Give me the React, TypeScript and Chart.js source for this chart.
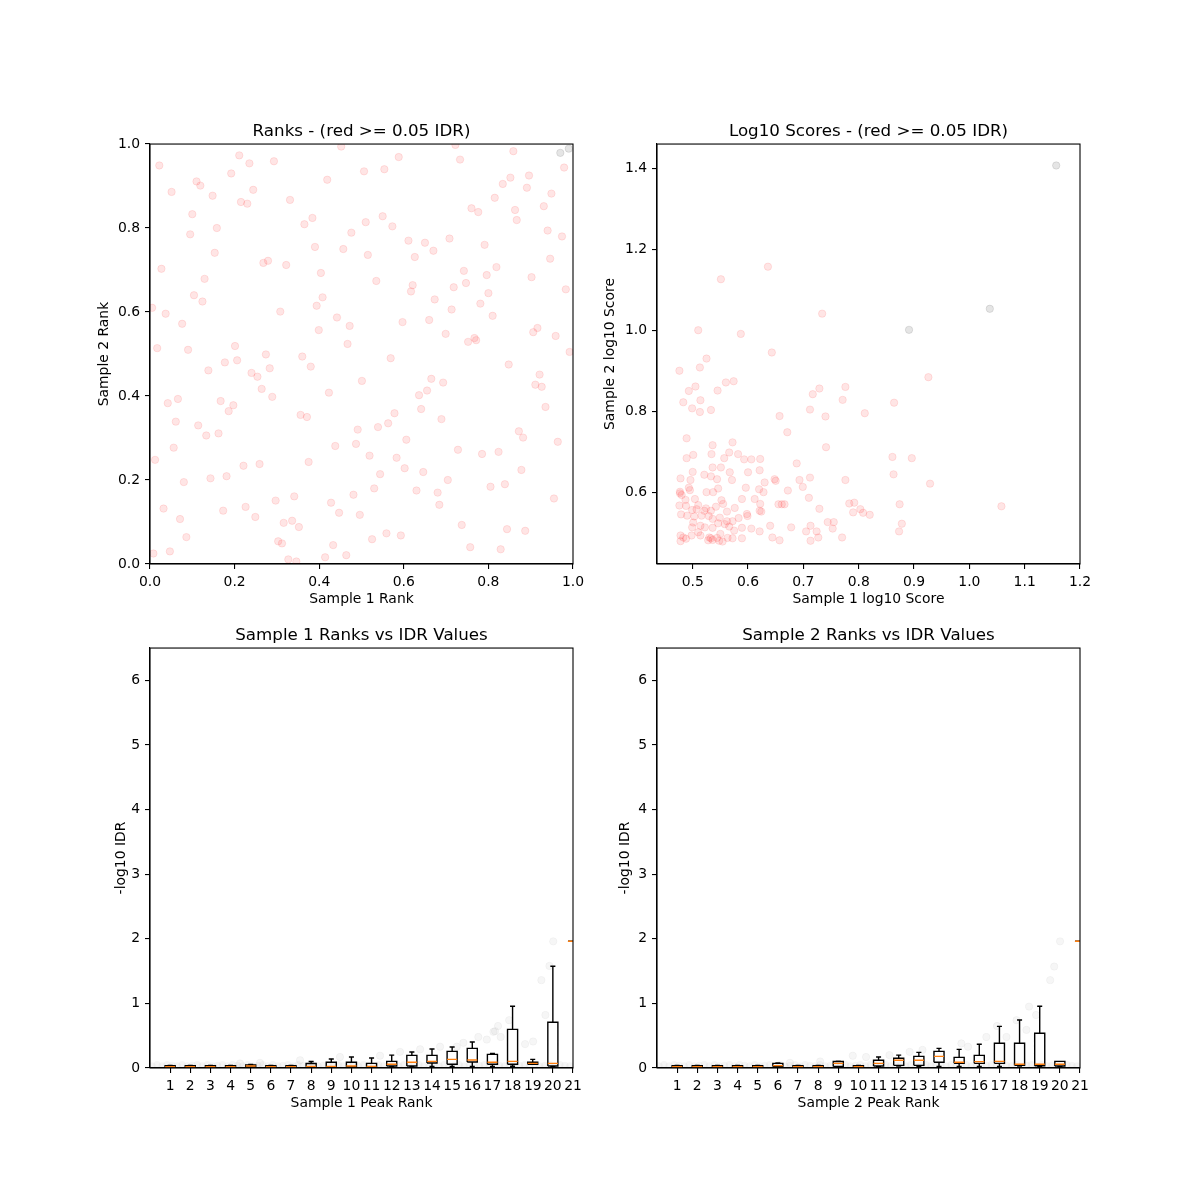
import React, { useEffect, useRef } from 'react';
import { Chart, registerables } from 'chart.js';

Chart.register(...registerables);

const FONT = '"DejaVu Sans", sans-serif';

// ---------- Panel 1: ranks ----------
const TL_RED_X = [0.452,0.722,0.859,0.211,0.022,0.235,0.293,0.733,0.588,0.554,0.506,0.192,0.979,0.852,0.896,0.419,0.110,0.119,0.834,0.891,0.244,0.051,0.148,0.949,0.815,0.331,0.215,0.230,0.760,0.776,0.863,0.931,0.100,0.550,0.384,0.867,0.365,0.573,0.158,0.940,0.476,0.510,0.095,0.974,0.708,0.611,0.650,0.791,0.390,0.457,0.670,0.153,0.515,0.626,0.946,0.268,0.279,0.322,0.819,0.027,0.404,0.742,0.796,0.902,0.129,0.535,0.621,0.617,0.718,0.747,0.983,0.800,0.104,0.408,0.673,0.124,0.781,0.394,0.005,0.713,0.308,0.037,0.810,0.442,0.660,0.597,0.076,0.472,0.399,0.906,0.916,0.699,0.959,0.752,0.767,0.771,0.467,0.017,0.090,0.201,0.992,0.274,0.360,0.569,0.206,0.177,0.848,0.380,0.138,0.283,0.240,0.254,0.665,0.501,0.693,0.921,0.911,0.926,0.655,0.636,0.423,0.264,0.289,0.066,0.042,0.167,0.197,0.186,0.935,0.641,0.578,0.356,0.371,0.689,0.061,0.563,0.114,0.539,0.491,0.872,0.162,0.133,0.882,0.606,0.964,0.487,0.438,0.056,0.728,0.824,0.785,0.519,0.583,0.259,0.221,0.375,0.012,0.878,0.602,0.646,0.544,0.181,0.143,0.704,0.080,0.805,0.839,0.530,0.630,0.680,0.481,0.341,0.297,0.428,0.955,0.684,0.173,0.032,0.226,0.447,0.496,0.249,0.071,0.336,0.316,0.737,0.352,0.844,0.887,0.559,0.593,0.086,0.525,0.303,0.312,0.433,0.757,0.829,0.047,0.008,0.464,0.414,0.327,0.346];
const TL_RED_Y = [0.994,0.998,0.983,0.973,0.949,0.954,0.959,0.963,0.969,0.940,0.935,0.930,0.944,0.920,0.925,0.915,0.911,0.901,0.905,0.896,0.891,0.886,0.877,0.882,0.872,0.867,0.862,0.858,0.847,0.838,0.843,0.852,0.833,0.828,0.824,0.819,0.809,0.804,0.800,0.794,0.789,0.814,0.785,0.780,0.775,0.770,0.765,0.760,0.755,0.750,0.746,0.741,0.736,0.731,0.727,0.717,0.722,0.712,0.707,0.703,0.693,0.698,0.688,0.683,0.679,0.674,0.664,0.649,0.659,0.669,0.654,0.645,0.640,0.635,0.630,0.625,0.620,0.615,0.610,0.606,0.601,0.596,0.591,0.587,0.581,0.576,0.572,0.567,0.557,0.552,0.562,0.548,0.543,0.529,0.538,0.533,0.524,0.514,0.510,0.519,0.505,0.499,0.494,0.490,0.485,0.480,0.475,0.470,0.461,0.466,0.455,0.446,0.441,0.436,0.432,0.451,0.427,0.422,0.413,0.402,0.408,0.417,0.398,0.393,0.383,0.388,0.378,0.364,0.374,0.369,0.359,0.355,0.350,0.345,0.339,0.335,0.330,0.326,0.320,0.316,0.311,0.306,0.301,0.296,0.291,0.286,0.281,0.277,0.272,0.267,0.262,0.258,0.253,0.238,0.234,0.243,0.248,0.224,0.228,0.219,0.214,0.209,0.204,0.200,0.195,0.184,0.190,0.180,0.175,0.170,0.165,0.161,0.151,0.146,0.156,0.141,0.127,0.132,0.136,0.122,0.117,0.112,0.107,0.103,0.098,0.093,0.088,0.083,0.079,0.073,0.068,0.064,0.059,0.054,0.049,0.045,0.040,0.035,0.030,0.025,0.021,0.016,0.011,0.006];
const TL_GREY_X = [0.970, 0.990];
const TL_GREY_Y = [0.979, 0.989];
const TL_TICKS = [0, 0.2, 0.4, 0.6, 0.8, 1.0];

// ---------- Panel 2: log10 scores ----------
const TR_RED_X = [0.636,0.551,0.734,0.510,0.587,0.643,0.525,0.513,0.476,0.926,0.560,0.574,0.505,0.545,0.493,0.483,0.514,0.729,0.717,0.776,0.771,0.864,0.499,0.533,0.513,0.712,0.657,0.740,0.811,0.671,0.489,0.741,0.536,0.572,0.566,0.534,0.501,0.489,0.557,0.582,0.593,0.606,0.622,0.688,0.861,0.896,0.500,0.536,0.551,0.600,0.621,0.496,0.478,0.521,0.533,0.567,0.544,0.571,0.630,0.648,0.650,0.693,0.712,0.776,0.863,0.929,0.477,0.493,0.495,0.525,0.537,0.546,0.596,0.620,0.628,0.672,0.699,0.477,0.480,0.487,0.504,0.710,0.612,0.589,0.622,0.552,0.555,0.562,0.576,0.488,0.476,0.507,0.510,0.524,0.521,0.533,0.542,0.499,0.479,0.490,0.503,0.516,0.529,0.536,0.549,0.562,0.572,0.583,0.598,0.599,0.621,0.624,0.655,0.661,0.666,0.729,0.783,0.792,0.803,0.808,0.820,0.790,0.874,1.058,0.744,0.755,0.753,0.678,0.713,0.724,0.705,0.727,0.713,0.770,0.873,0.878,0.640,0.657,0.644,0.621,0.606,0.589,0.589,0.575,0.566,0.558,0.546,0.550,0.544,0.530,0.528,0.536,0.533,0.548,0.554,0.563,0.572,0.478,0.483,0.488,0.478,0.498,0.510,0.499,0.514,0.522,0.536,0.514,0.501];
const TR_RED_Y = [1.158,1.127,1.042,1.001,0.992,0.946,0.931,0.909,0.901,0.885,0.872,0.875,0.862,0.852,0.851,0.823,0.828,0.857,0.843,0.861,0.829,0.822,0.808,0.804,0.799,0.805,0.789,0.788,0.796,0.749,0.734,0.712,0.717,0.724,0.699,0.695,0.693,0.685,0.685,0.695,0.682,0.682,0.683,0.672,0.688,0.685,0.651,0.662,0.662,0.650,0.655,0.631,0.635,0.644,0.640,0.650,0.633,0.631,0.625,0.633,0.629,0.631,0.637,0.631,0.645,0.622,0.602,0.612,0.606,0.601,0.601,0.610,0.612,0.608,0.601,0.605,0.614,0.598,0.594,0.582,0.584,0.587,0.584,0.584,0.572,0.581,0.572,0.553,0.562,0.567,0.568,0.559,0.569,0.561,0.555,0.555,0.565,0.557,0.546,0.543,0.541,0.543,0.542,0.535,0.538,0.529,0.529,0.537,0.547,0.542,0.555,0.553,0.571,0.571,0.571,0.560,0.573,0.575,0.559,0.550,0.545,0.551,0.571,0.566,0.527,0.527,0.511,0.514,0.518,0.504,0.504,0.489,0.481,0.489,0.504,0.523,0.518,0.482,0.489,0.504,0.511,0.513,0.487,0.506,0.516,0.522,0.524,0.498,0.488,0.489,0.482,0.483,0.487,0.481,0.479,0.488,0.487,0.480,0.489,0.486,0.494,0.494,0.502,0.514,0.518,0.514,0.513,0.494,0.526];
const TR_GREY_X = [1.157, 1.037, 0.891];
const TR_GREY_Y = [1.408, 1.054, 1.002];
const TR_X_TICKS = [0.5, 0.6, 0.7, 0.8, 0.9, 1.0, 1.1, 1.2];
const TR_Y_TICKS = [0.6, 0.8, 1.0, 1.2, 1.4];

// ---------- Panels 3 & 4: ranks vs IDR ----------
const RANK_POS = [1,2,3,4,5,6,7,8,9,10,11,12,13,14,15,16,17,18,19,20,21];
const IDR_Y_TICKS = [0, 1, 2, 3, 4, 5, 6];

const S1_LO  = [0.010,0.010,0.010,0.010,0.012,0.010,0.010,0.015,0.015,0.015,0.015,0.025,0.025,0.025,0.025,0.025,0.025,0.028,0.057,0.028,1.961];
const S1_Q1  = [0.012,0.012,0.012,0.012,0.015,0.012,0.012,0.020,0.020,0.020,0.020,0.030,0.030,0.077,0.057,0.093,0.057,0.057,0.057,0.030,1.961];
const S1_MED = [0.022,0.022,0.022,0.022,0.030,0.022,0.022,0.025,0.025,0.030,0.025,0.057,0.088,0.103,0.134,0.124,0.088,0.103,0.072,0.072,1.961];
const S1_Q3  = [0.035,0.035,0.035,0.035,0.046,0.035,0.035,0.070,0.088,0.088,0.072,0.103,0.196,0.196,0.258,0.304,0.211,0.598,0.088,0.707,1.961];
const S1_HI  = [0.038,0.038,0.038,0.038,0.056,0.038,0.038,0.100,0.139,0.170,0.155,0.200,0.248,0.294,0.325,0.402,0.227,0.955,0.134,1.574,1.961];

const S2_LO  = [0.010,0.010,0.010,0.010,0.010,0.015,0.010,0.010,0.020,0.010,0.020,0.030,0.025,0.025,0.025,0.025,0.025,0.030,0.025,0.025,1.961];
const S2_Q1  = [0.012,0.012,0.012,0.012,0.012,0.025,0.012,0.012,0.025,0.012,0.030,0.041,0.041,0.088,0.072,0.072,0.072,0.041,0.035,0.030,1.961];
const S2_MED = [0.022,0.022,0.022,0.022,0.022,0.036,0.022,0.022,0.071,0.022,0.072,0.119,0.119,0.180,0.088,0.098,0.103,0.057,0.057,0.057,1.961];
const S2_Q3  = [0.035,0.035,0.035,0.035,0.035,0.071,0.035,0.035,0.100,0.035,0.119,0.150,0.180,0.258,0.165,0.196,0.382,0.382,0.537,0.103,1.961];
const S2_HI  = [0.038,0.038,0.038,0.038,0.038,0.080,0.038,0.038,0.107,0.038,0.170,0.200,0.242,0.304,0.289,0.367,0.645,0.743,0.955,0.103,1.961];

const S1_IDR_X = [20.02,19.83,19.43,19.63,17.83,17.28,17.13,17.41,18.62,19.02,16.30,16.72,15.56,15.23,14.40,13.41,12.41,11.42,9.43,17.05,7.45,5.46,4.47];
const S1_IDR_Y = [1.96,1.58,1.36,0.82,0.74,0.65,0.57,0.48,0.37,0.41,0.48,0.44,0.39,0.33,0.33,0.29,0.25,0.19,0.17,0.56,0.12,0.08,0.07];
const S2_IDR_X = [20.01,19.72,19.52,18.47,18.82,17.85,18.34,16.88,16.35,17.35,15.44,15.11,13.18,12.54,11.54,10.38,9.72,8.10,6.60];
const S2_IDR_Y = [1.96,1.57,1.36,0.95,0.82,0.74,0.59,0.65,0.48,0.48,0.33,0.38,0.28,0.25,0.20,0.17,0.19,0.10,0.08];
const LOW_IDR_X = [0.10,0.35,0.60,0.85,1.10,1.35,1.60,1.85,2.10,2.35,2.60,2.85,3.10,3.35,3.60,3.85,4.10,4.35,4.60,4.85,5.10,5.35,5.60,5.85,6.10,6.35,6.60,6.85,7.10,7.35,7.60,7.85,8.10,8.35,8.60,8.85,9.10,9.35,9.60,9.85,10.10,10.35,10.60,10.85,11.10,11.35,11.60,11.85,12.10,12.35,12.60,12.85,13.10,13.35,13.60,13.85,14.10,14.35,14.60,14.85,15.10,15.35,15.60,15.85,16.10,16.35,16.60,16.85,17.10,17.35,17.60,17.85,18.10,18.35,18.60,18.85,19.10,19.35,19.60,19.85,20.10,20.35,20.60,20.85];
const LOW_IDR_Y = [0.03,0.05,0.03,0.05,0.04,0.03,0.05,0.03,0.04,0.05,0.03,0.05,0.03,0.04,0.05,0.03,0.05,0.04,0.03,0.05,0.03,0.04,0.05,0.03,0.05,0.03,0.04,0.05,0.03,0.05,0.04,0.03,0.05,0.03,0.04,0.05,0.03,0.05,0.03,0.04,0.05,0.03,0.05,0.04,0.03,0.05,0.03,0.04,0.05,0.03,0.05,0.03,0.04,0.05,0.03,0.05,0.04,0.03,0.05,0.03,0.04,0.05,0.03,0.05,0.03,0.04,0.05,0.03,0.05,0.04,0.03,0.05,0.03,0.04,0.05,0.03,0.05,0.03,0.04,0.05,0.03,0.05,0.04,0.03];

// ---------- layout ----------
const PAD_L = 100, PAD_T = 40, PAD_R = 30, PAD_B = 60;
const AX_W = 423, AX_H = 420;

const framePlugin = {
  id: 'frame',
  afterDatasetsDraw(chart: any) {
    const { ctx, chartArea: a } = chart;
    ctx.save();
    ctx.strokeStyle = '#000';
    ctx.lineWidth = 1.1;
    ctx.strokeRect(a.left, a.top, a.right - a.left, a.bottom - a.top);
    ctx.restore();
  },
};

const zip = (xs: number[], ys: number[]) =>
  xs.slice(0, Math.min(xs.length, ys.length)).map((x, i) => ({ x, y: ys[i] }));

function scatterSet(xs: number[], ys: number[], color: string, order: number, border = 1) {
  return {
    type: 'scatter',
    data: zip(xs, ys),
    backgroundColor: color,
    borderColor: color,
    borderWidth: border,
    pointRadius: 3.7,
    pointHoverRadius: 3.7,
    clip: 0,
    order,
  };
}

function boxSets(lo: number[], q1: number[], med: number[], q3: number[], hi: number[]) {
  const w = 0.25, c = 0.125;
  const black: any[] = [];
  const orange: any[] = [];
  RANK_POS.forEach((p, i) => {
    black.push(
      { x: p - w, y: q1[i] }, { x: p + w, y: q1[i] }, { x: p + w, y: q3[i] }, { x: p - w, y: q3[i] }, { x: p - w, y: q1[i] }, { x: p, y: null },
      { x: p, y: q1[i] }, { x: p, y: lo[i] }, { x: p, y: null },
      { x: p - c, y: lo[i] }, { x: p + c, y: lo[i] }, { x: p, y: null },
      { x: p, y: q3[i] }, { x: p, y: hi[i] }, { x: p, y: null },
      { x: p - c, y: hi[i] }, { x: p + c, y: hi[i] }, { x: p, y: null },
    );
    orange.push({ x: p - w, y: med[i] }, { x: p + w, y: med[i] }, { x: p, y: null });
  });
  const line = (data: any[], color: string, order: number) => ({
    type: 'line', data, borderColor: color, backgroundColor: color, borderWidth: 1.4,
    pointRadius: 0, pointHoverRadius: 0, spanGaps: false, fill: false, tension: 0,
    borderJoinStyle: 'miter', clip: 0, order,
  });
  return [line(orange, '#ff7f0e', 0), line(black, '#000000', 1)];
}

function axis(opts: {
  x: boolean; min: number; max: number; ticks: number[]; fmt: (v: number) => string;
  title: string; titlePad: number;
}) {
  return {
    type: 'linear',
    position: opts.x ? 'bottom' : 'left',
    min: opts.min,
    max: opts.max,
    afterBuildTicks: (s: any) => { s.ticks = opts.ticks.map((v) => ({ value: v })); },
    afterFit: (s: any) => { if (opts.x) s.height = PAD_B; else s.width = PAD_L; },
    ticks: {
      color: '#000', font: { family: FONT, size: 13.9 }, padding: 5,
      maxRotation: 0, minRotation: 0, autoSkip: false,
      callback: (v: any) => opts.fmt(Number(v)),
    },
    grid: { display: true, drawOnChartArea: false, drawTicks: true, tickLength: 5, color: '#000', lineWidth: 1.1 },
    border: { display: true, color: '#000', width: 1.1 },
    title: {
      display: true, text: opts.title, color: '#000', font: { family: FONT, size: 13.9 },
      padding: opts.x ? { top: 0, bottom: opts.titlePad } : { top: opts.titlePad, bottom: 0 },
    },
  };
}

function makeConfig(title: string, datasets: any[], xScale: any, yScale: any) {
  return {
    type: 'scatter',
    data: { datasets },
    options: {
      responsive: false,
      animation: false,
      events: [],
      layout: { padding: { left: 0, top: 0, right: PAD_R, bottom: 0 } },
      plugins: {
        legend: { display: false },
        tooltip: { enabled: false },
        title: {
          display: true, text: title, color: '#000', fullSize: false,
          font: { family: FONT, size: 16.7, weight: 'normal' },
          padding: { top: 18, bottom: 2 },
        },
      },
      scales: { x: xScale, y: yScale },
    },
    plugins: [framePlugin],
  };
}

const f1 = (v: number) => v.toFixed(1);
const fi = (v: number) => String(Math.round(v));
const FAINT = 'rgba(0,0,0,0.035)';
const BAND = 'rgba(0,0,0,0.04)';

const PANELS = [
  {
    left: 150, top: 144,
    config: () => makeConfig('Ranks - (red >= 0.05 IDR)',
      [scatterSet(TL_GREY_X, TL_GREY_Y, 'rgba(0,0,0,0.1)', 2), scatterSet(TL_RED_X, TL_RED_Y, 'rgba(255,0,0,0.1)', 3)],
      axis({ x: true, min: 0, max: 1, ticks: TL_TICKS, fmt: f1, title: 'Sample 1 Rank', titlePad: 16.7 }),
      axis({ x: false, min: 0, max: 1, ticks: TL_TICKS, fmt: f1, title: 'Sample 2 Rank', titlePad: 45.7 })),
  },
  {
    left: 657, top: 144,
    config: () => makeConfig('Log10 Scores - (red >= 0.05 IDR)',
      [scatterSet(TR_GREY_X, TR_GREY_Y, 'rgba(0,0,0,0.1)', 2), scatterSet(TR_RED_X, TR_RED_Y, 'rgba(255,0,0,0.1)', 3)],
      axis({ x: true, min: 0.4355, max: 1.2, ticks: TR_X_TICKS, fmt: f1, title: 'Sample 1 log10 Score', titlePad: 16.7 }),
      axis({ x: false, min: 0.4235, max: 1.461, ticks: TR_Y_TICKS, fmt: f1, title: 'Sample 2 log10 Score', titlePad: 44.7 })),
  },
  {
    left: 150, top: 648,
    config: () => makeConfig('Sample 1 Ranks vs IDR Values',
      [...boxSets(S1_LO, S1_Q1, S1_MED, S1_Q3, S1_HI),
        scatterSet(S1_IDR_X, S1_IDR_Y, FAINT, 3),
        scatterSet(LOW_IDR_X, LOW_IDR_Y, BAND, 4, 0)],
      axis({ x: true, min: 0, max: 21, ticks: RANK_POS, fmt: fi, title: 'Sample 1 Peak Rank', titlePad: 16.7 }),
      axis({ x: false, min: 0, max: 6.5, ticks: IDR_Y_TICKS, fmt: fi, title: '-log10 IDR', titlePad: 62.7 })),
  },
  {
    left: 657, top: 648,
    config: () => makeConfig('Sample 2 Ranks vs IDR Values',
      [...boxSets(S2_LO, S2_Q1, S2_MED, S2_Q3, S2_HI),
        scatterSet(S2_IDR_X, S2_IDR_Y, FAINT, 3),
        scatterSet(LOW_IDR_X, LOW_IDR_Y, BAND, 4, 0)],
      axis({ x: true, min: 0, max: 21, ticks: RANK_POS, fmt: fi, title: 'Sample 2 Peak Rank', titlePad: 16.7 }),
      axis({ x: false, min: 0, max: 6.5, ticks: IDR_Y_TICKS, fmt: fi, title: '-log10 IDR', titlePad: 59.7 })),
  },
];

function Panel({ left, top, config }: { left: number; top: number; config: () => any }) {
  const ref = useRef<HTMLCanvasElement>(null);
  const w = AX_W + PAD_L + PAD_R;
  const h = AX_H + PAD_T + PAD_B;
  useEffect(() => {
    const chart = new Chart(ref.current as HTMLCanvasElement, config());
    return () => chart.destroy();
  }, []);
  return (
    <canvas
      ref={ref}
      width={w}
      height={h}
      style={{ position: 'absolute', left: left - PAD_L, top: top - PAD_T, width: w, height: h, display: 'block' }}
    />
  );
}

export default function App() {
  return (
    <div style={{ position: 'absolute', left: 0, top: 0, width: 1200, height: 1200, background: '#fff' }}>
      {PANELS.map((p, i) => (
        <Panel key={i} left={p.left} top={p.top} config={p.config} />
      ))}
    </div>
  );
}
